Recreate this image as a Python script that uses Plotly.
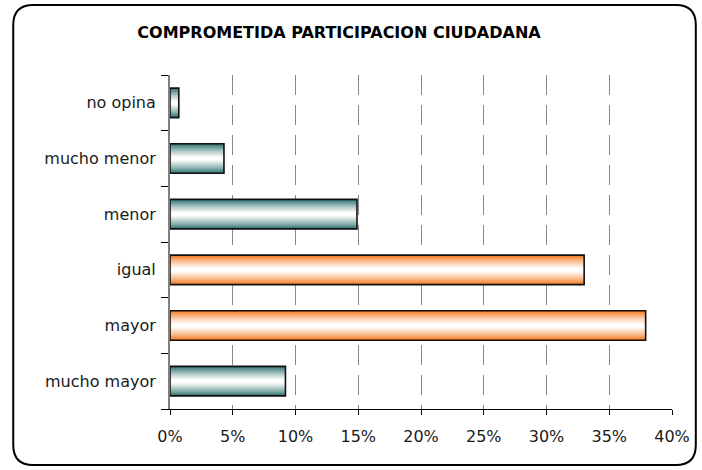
import numpy as np
import plotly.graph_objects as go

# ---- data ----
categories = ["mucho mayor", "mayor", "igual", "menor", "mucho menor", "no opina"]
values = [9.2, 37.9, 33.0, 14.9, 4.3, 0.7]
groups = ["teal", "orange", "orange", "teal", "teal", "teal"]
x_tick_vals = [0, 5, 10, 15, 20, 25, 30, 35, 40]
x_tick_text = ["0%", "5%", "10%", "15%", "20%", "25%", "30%", "35%", "40%"]
title_text = "COMPROMETIDA PARTICIPACION CIUDADANA"

# ---- style ----
W, H = 702, 470
L, R, T, B = 170, 26, 75, 61
edge_cols = {"teal": (45, 112, 110), "orange": (243, 118, 25)}
BAR_W = 0.53
N = 14

fig = go.Figure()

def mix(c, t):
    return "rgb(%d,%d,%d)" % tuple(int(round(ci + (255 - ci) * t)) for ci in c)

# gradient layers (outer dark -> inner white)
for i in range(N):
    frac = i / N
    w = BAR_W * (1 - frac)
    t = min(1.0, (i / (N - 1)) ** 0.8 * 1.05)
    cols = [mix(edge_cols[g], t) for g in groups]
    fig.add_trace(go.Bar(
        y=categories, x=values, orientation="h", width=w,
        marker=dict(color=cols, line=dict(width=0)),
        showlegend=False, hoverinfo="skip"))

# outline
fig.add_trace(go.Bar(
    y=categories, x=values, orientation="h", width=BAR_W,
    marker=dict(color="rgba(0,0,0,0)", line=dict(color="#111111", width=1.6)),
    showlegend=False, hovertemplate="%{y}: %{x}%<extra></extra>"))

# rounded border in paper coords
pw, ph = W - L - R, H - T - B
def px(x):
    return (x - L) / pw
def py(y):
    return (H - B - y) / ph
x0, x1, y0, y1, r = 12, 700, 5, 465, 20
path = (f"M {px(x0)},{py(y0 + r)} Q {px(x0)},{py(y0)} {px(x0 + r)},{py(y0)} "
        f"L {px(x1 - r)},{py(y0)} Q {px(x1)},{py(y0)} {px(x1)},{py(y0 + r)} "
        f"L {px(x1)},{py(y1 - r)} Q {px(x1)},{py(y1)} {px(x1 - r)},{py(y1)} "
        f"L {px(x0 + r)},{py(y1)} Q {px(x0)},{py(y1)} {px(x0)},{py(y1 - r)} Z")
fig.add_shape(type="path", xref="paper", yref="paper", path=path,
              line=dict(color="black", width=2), layer="above")

font_fam = "DejaVu Sans, Arial, sans-serif"
fig.update_layout(
    width=W, height=H,
    margin=dict(l=L, r=R, t=T, b=B),
    barmode="overlay",
    paper_bgcolor="white", plot_bgcolor="white",
    title=dict(text="<b>" + title_text + "</b>", x=339 / W, xref="container",
               xanchor="center", y=1 - 32 / H, yanchor="middle",
               font=dict(family=font_fam, size=16, color="black")),
    font=dict(family=font_fam, size=16, color="#1a1a1a"),
    xaxis=dict(range=[0, 40], tickvals=x_tick_vals, ticktext=x_tick_text,
               showgrid=True, gridcolor="#8a8a8a", gridwidth=1, griddash="20px,10px",
               zeroline=False, showline=True, linecolor="black", linewidth=1,
               ticks="outside", ticklen=5, tickcolor="black", tickwidth=1,
               ticklabelstandoff=8,
               tickfont=dict(size=16), fixedrange=True),
    yaxis=dict(type="category", categoryorder="array", categoryarray=categories,
               range=[-0.5, 5.5], showgrid=False, zeroline=False,
               showline=True, linecolor="#808080", linewidth=2,
               ticks="outside", tickson="boundaries", ticklen=7,
               ticklabelstandoff=9,
               tickcolor="black", tickwidth=1, tickfont=dict(size=16),
               fixedrange=True),
)

fig.write_html("out.html", config={"displayModeBar": False},
               post_script="document.body.style.margin='0';document.body.style.padding='0';")
